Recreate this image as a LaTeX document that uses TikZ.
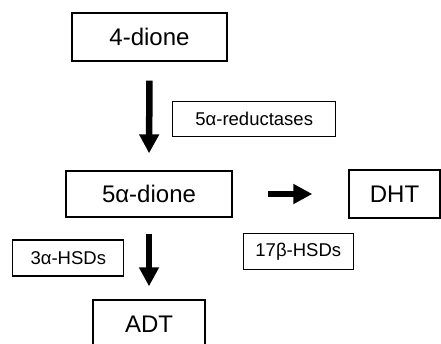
\documentclass[tikz,border=0pt]{standalone}
\usepackage{fontspec}
\setmainfont{Liberation Sans}
\usetikzlibrary{arrows.meta}
\tikzset{
  bigbox/.style={draw, line width=1.4pt, rectangle, inner sep=0pt, font=\fontsize{24}{28}\selectfont},
  smallbox/.style={draw, line width=1.3pt, rectangle, inner sep=0pt, font=\fontsize{18.5}{22}\selectfont},
  fatarrow/.style={line width=6.5pt, -{Triangle[width=19pt,length=19pt]}}
}
\begin{document}
\begin{tikzpicture}[x=1pt,y=-1pt]
\useasboundingbox (0,0) rectangle (441,343);
\clip (0,0) rectangle (441,343);
\node[bigbox, minimum width=155pt, minimum height=48pt] (dione4) at (149.5,37) {4-dione};
\node[smallbox, minimum width=163pt, minimum height=34.5pt] (red) at (254.2,118.9) {5α-reductases};
\node[bigbox, minimum width=166pt, minimum height=46pt] (dione5) at (149,194) {5α-dione};
\node[bigbox, minimum width=91pt, minimum height=48pt] (dht) at (394.5,194) {DHT};
\node[smallbox, minimum width=111pt, minimum height=36pt] (hsd3) at (68.3,258) {3α-HSDs};
\node[smallbox, minimum width=110pt, minimum height=36.5pt] (hsd17) at (298.3,251.5) {17β-HSDs};
\node[bigbox, minimum width=112pt, minimum height=50pt] (adt) at (149,325) {};
\node[font=\fontsize{24}{28}\selectfont, inner sep=0pt, anchor=base] (adtlabel) at (149,332) {ADT};
\draw[fatarrow, shorten <=19pt, shorten >=17pt] (dione4.south) -- (dione5.north);
\draw[fatarrow, shorten <=16pt, shorten >=13pt] (dione5.south) -- (adt.north);
\draw[fatarrow, shorten <=35pt, shorten >=36pt] (dione5.east) -- (dht.west);
\end{tikzpicture}
\end{document}
